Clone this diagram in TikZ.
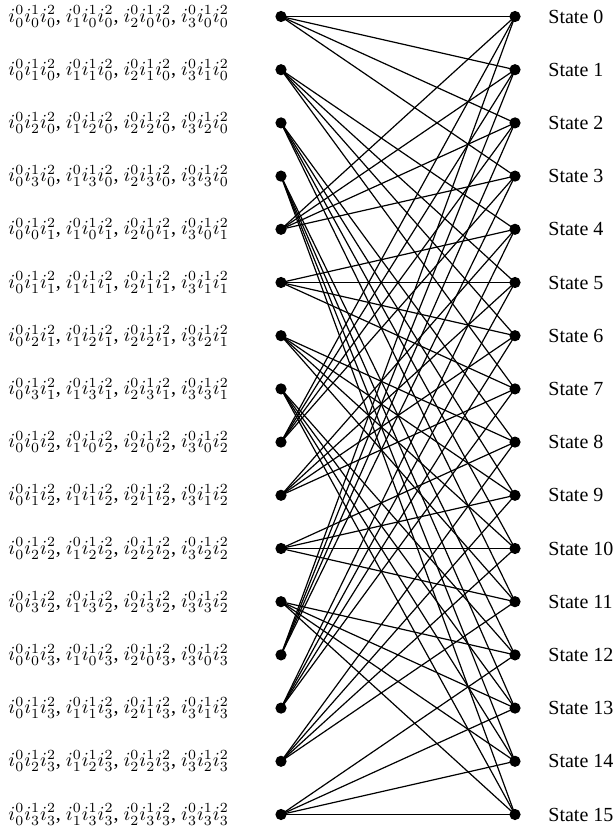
\documentclass[tikz,border=0pt]{standalone}
\usepackage{fontspec}
\setmainfont{Liberation Serif}
\usepackage{tikz}
\usetikzlibrary{positioning}
\tikzset{
    dotnode/.style={circle, fill=black, inner sep=0pt, minimum size=5.6pt},
    edgeline/.style={line width=0.6pt, draw=black},
    statelabel/.style={anchor=west, font=\fontsize{10}{12}\selectfont, inner sep=0pt},
    inputlabel/.style={anchor=west, font=\fontsize{10}{12}\selectfont, inner sep=0pt}
}

\begin{document}
\begin{tikzpicture}[x=0.5pt,y=-0.5pt]
    \useasboundingbox (0,0) rectangle (615,833);
    % Nodes: inputs on the left, states on the right
    \foreach \k in {0,...,15}{
        \pgfmathsetmacro{\yy}{16.5+53.2*\k}
        \pgfmathtruncatemacro{\bb}{mod(\k,4)}
        \pgfmathtruncatemacro{\cc}{div(\k,4)}
        \node[dotnode] (l\k) at (281,\yy) {};
        \node[dotnode] (s\k) at (515,\yy) {};
        \node[inputlabel] (in\k) at (8,\yy) {$i^0_0i^1_{\bb}i^2_{\cc}$, $i^0_1i^1_{\bb}i^2_{\cc}$, $i^0_2i^1_{\bb}i^2_{\cc}$, $i^0_3i^1_{\bb}i^2_{\cc}$};
        \node[statelabel] (st\k) at (548,\yy) {State \k};
    }
    % Transitions: input k goes to states 4*(k mod 4) + a
    \foreach \k in {0,...,15}{
        \pgfmathtruncatemacro{\bb}{mod(\k,4)}
        \foreach \a in {0,...,3}{
            \pgfmathtruncatemacro{\tt}{4*\bb+\a}
            \draw[edgeline] (l\k.center) -- (s\tt.center);
        }
    }
\end{tikzpicture}
\end{document}
